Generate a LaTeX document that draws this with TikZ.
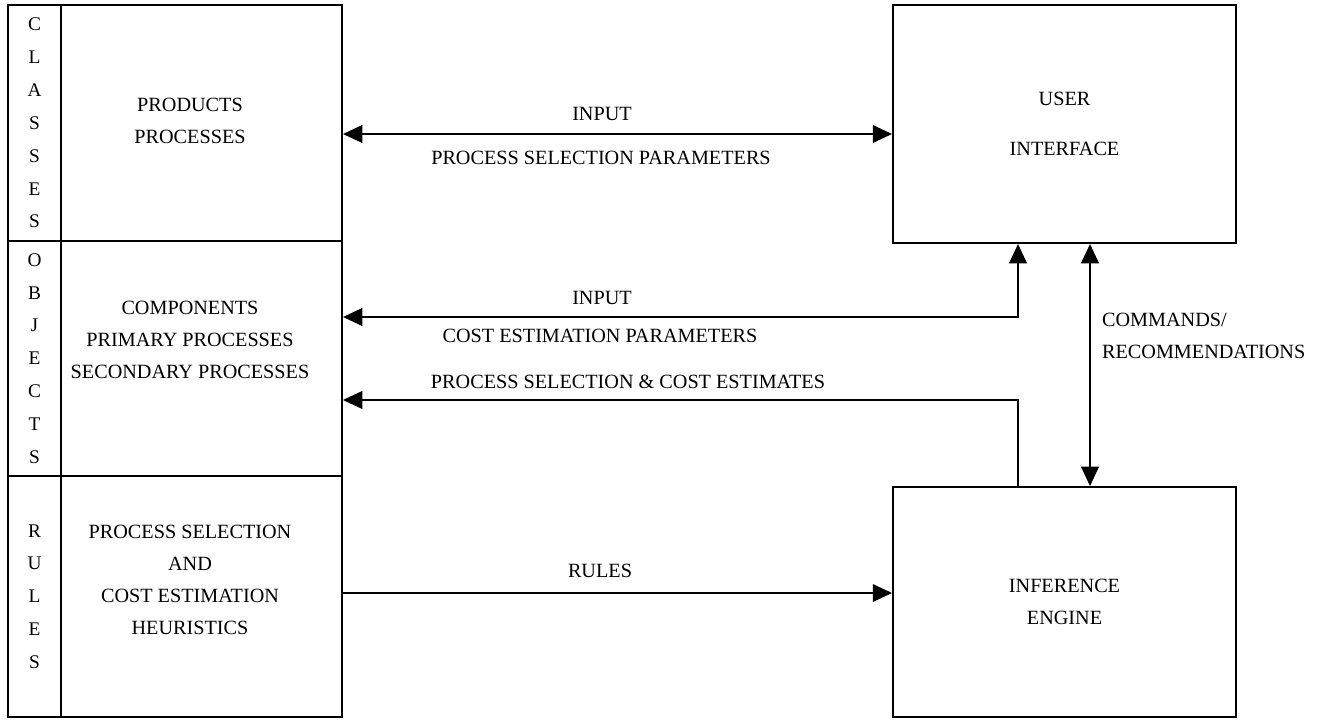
\documentclass[tikz,border=0pt]{standalone}
\usepackage{fontspec}
\setmainfont{Liberation Serif}
\usetikzlibrary{arrows.meta}

\tikzset{
  box/.style={draw, line width=1.1pt, inner sep=0pt},
  lbl/.style={font=\fontsize{11.5}{18.1}\selectfont, align=center, inner sep=1pt},
  tag/.style={font=\fontsize{11}{18.7}\selectfont, align=center},
  flow/.style={line width=1.1pt, -{Triangle[length=11pt,width=10pt]}},
  both/.style={line width=1.1pt, {Triangle[length=11pt,width=10pt]}-{Triangle[length=11pt,width=10pt]}},
}

\begin{document}
\begin{tikzpicture}[x=0.02cm, y=-0.02cm]
\useasboundingbox (0,0) rectangle (1325,721);

% knowledge base
\node[box, tag, minimum width=1.06cm, minimum height=4.72cm] (tagC) at (34.5,123) {C\\L\\A\\S\\S\\E\\S};
\node[box, minimum width=5.62cm, minimum height=4.72cm] (cellA) at (201.5,123) {};
\node[box, tag, minimum width=1.06cm, minimum height=4.7cm] (tagO) at (34.5,358.5) {O\\B\\J\\E\\C\\T\\S};
\node[box, minimum width=5.62cm, minimum height=4.7cm] (cellB) at (201.5,358.5) {};
\node[box, tag, minimum width=1.06cm, minimum height=4.82cm] (tagR) at (34.5,596.5) {R\\U\\L\\E\\S};
\node[box, minimum width=5.62cm, minimum height=4.82cm] (cellC) at (201.5,596.5) {};

\node[lbl] (txtA) at (190,121) {PRODUCTS\\PROCESSES};
\node[lbl] (txtB) at (190,340) {COMPONENTS\\PRIMARY PROCESSES\\SECONDARY PROCESSES};
\node[lbl] (txtC) at (190,580) {PROCESS SELECTION\\AND\\COST ESTIMATION\\HEURISTICS};

% user interface and inference engine
\node[box, lbl, minimum width=6.86cm, minimum height=4.76cm] (ui) at (1064.5,124) {USER\\[10pt]INTERFACE};
\node[box, lbl, minimum width=6.86cm, minimum height=4.6cm] (ie) at (1064.5,602) {INFERENCE\\ENGINE};

% connectors
\draw[both] ([yshift=-0.22cm]cellA.east) -- ([yshift=-0.2cm]ui.west);
\draw[both] ([yshift=0.83cm]cellB.east) -| ([xshift=-0.93cm]ui.south);
\draw[flow] ([xshift=-0.93cm]ie.north) |- ([yshift=-0.83cm]cellB.east);
\draw[both] ([xshift=0.51cm]ui.south) -- ([xshift=0.51cm]ie.north);
\draw[flow] ([yshift=0.07cm]cellC.east) -- ([yshift=0.18cm]ie.west);

\node[lbl] (inA) at (602,114) {INPUT};
\node[lbl] (parA) at (601,158) {PROCESS SELECTION PARAMETERS};
\node[lbl] (inB) at (602,298) {INPUT};
\node[lbl] (parB) at (600,336) {COST ESTIMATION PARAMETERS};
\node[lbl] (est) at (628,382) {PROCESS SELECTION \& COST ESTIMATES};
\node[lbl] (rul) at (600,571) {RULES};
\node[lbl, anchor=west, align=left] (cmd) at (1100,336) {COMMANDS/\\RECOMMENDATIONS};
\end{tikzpicture}
\end{document}
